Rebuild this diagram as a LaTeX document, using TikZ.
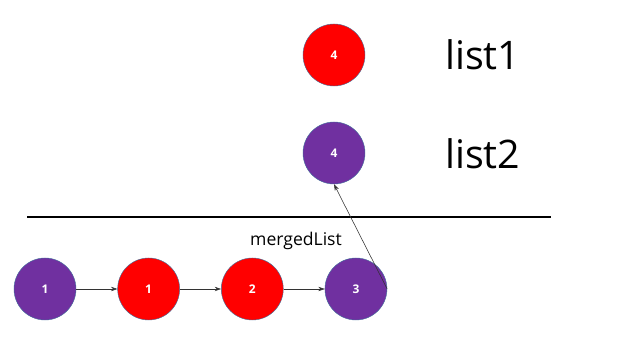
\documentclass[tikz,border=0pt]{standalone}
\usepackage{fontspec}
\setmainfont{Open Sans}
\usetikzlibrary{arrows.meta,positioning}
\definecolor{listpurple}{HTML}{7030A0}
\definecolor{listred}{HTML}{FF0000}
\definecolor{rim}{HTML}{41719C}

\begin{document}
\begin{tikzpicture}[x=0.025cm,y=0.025cm,
  item/.style={circle,draw=rim,line width=0.3pt,minimum size=1.55cm,inner sep=0pt,text=white,font=\bfseries\fontsize{8.5}{9}\selectfont},
  link/.style={-{Stealth[length=1.6mm,width=1.1mm]},line width=0.4pt,black!80},
  caption/.style={anchor=west,inner sep=0pt,font=\fontsize{28}{32}\selectfont}
]
  \useasboundingbox (0,0) rectangle (640,360);
  \node[item,fill=listred] (head1) at (334,305) {4};
  \node[item,fill=listpurple] (head2) at (334,207) {4};
  \node[caption] (name1) at (445,305) {list1};
  \node[caption] (name2) at (445,206) {list2};
  \draw[line width=1.4pt] (27,143) -- (551,143);
  \node[font=\fontsize{12.5}{15}\selectfont] (merged) at (296,119) {mergedList};
  \node[item,fill=listpurple] (m1) at (45,71) {1};
  \node[item,fill=listred,right=1.03cm of m1] (m2) {1};
  \node[item,fill=listred,right=1.03cm of m2] (m3) {2};
  \node[item,fill=listpurple,right=1.03cm of m3] (m4) {3};
  \draw[link] (m1.east) -- (m2.west);
  \draw[link] (m2.east) -- (m3.west);
  \draw[link] (m3.east) -- (m4.west);
  \draw[link] (m4.east) -- (head2.south);
\end{tikzpicture}
\end{document}
